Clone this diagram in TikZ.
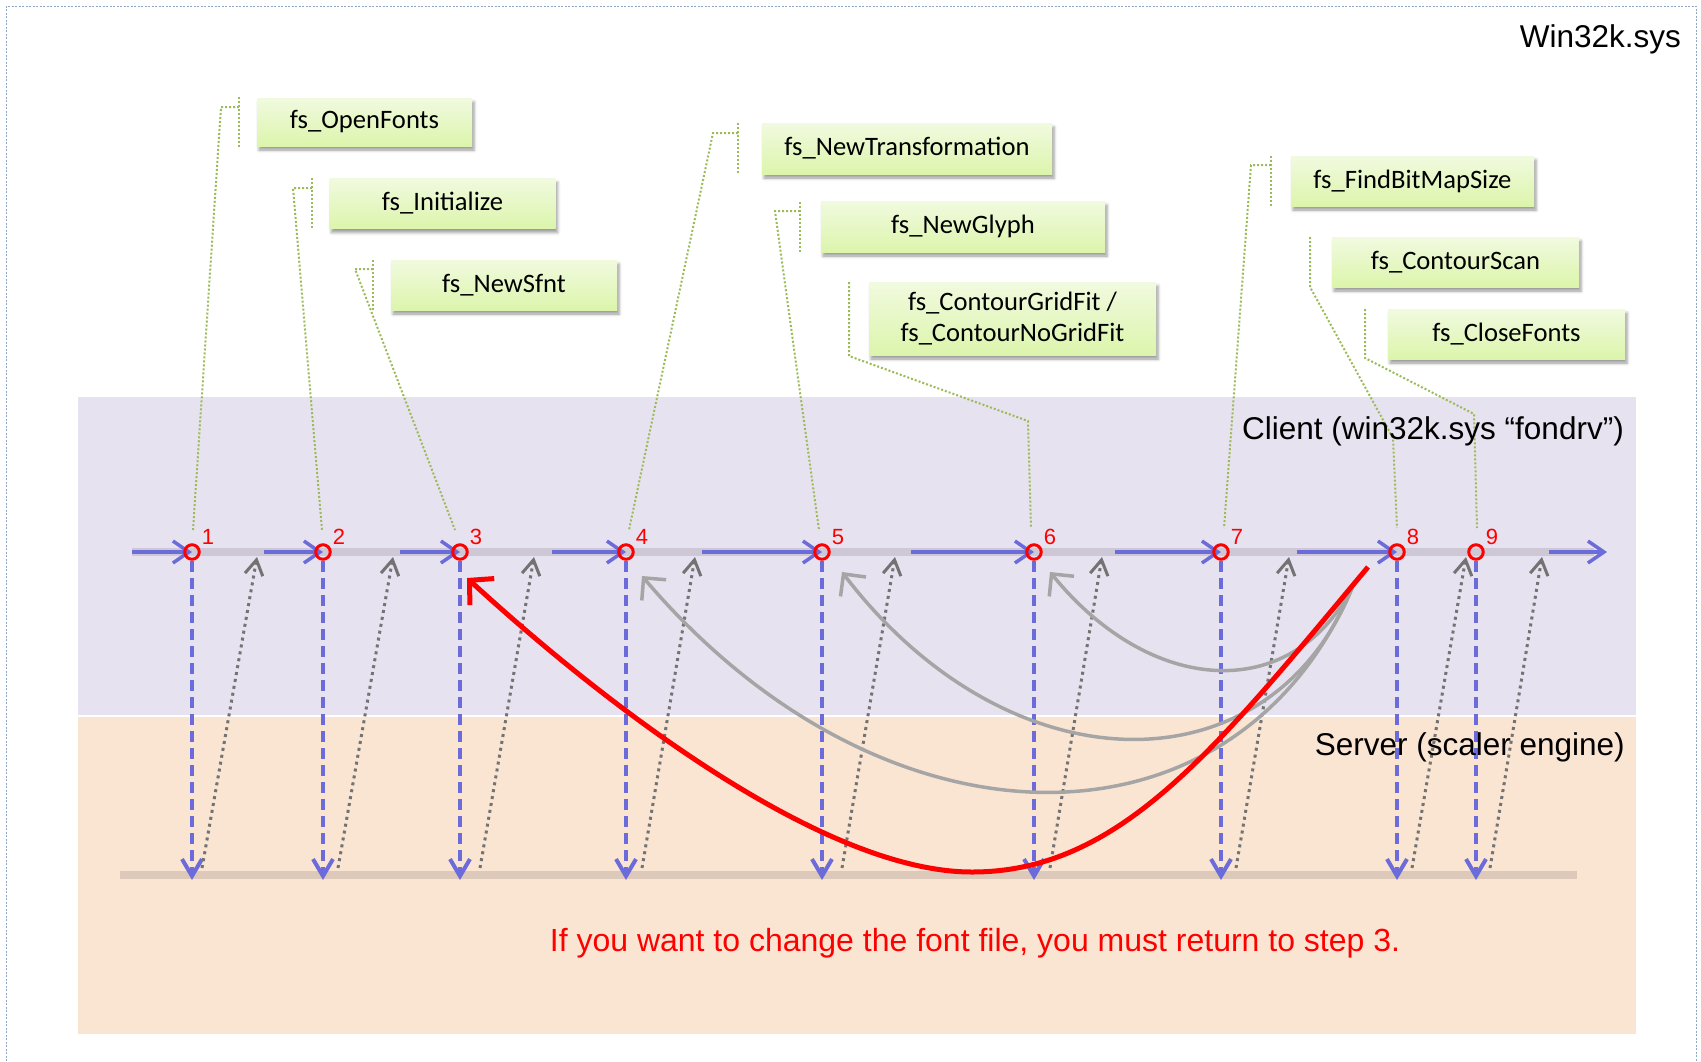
\documentclass[tikz,border=0pt]{standalone}
\usepackage{fontspec}
\setmainfont{Liberation Sans}
\newfontfamily\boxfont{Carlito}
\usetikzlibrary{arrows.meta,shadows.blur,calc}

\definecolor{clientbg}{HTML}{E7E2EF}
\definecolor{serverbg}{HTML}{FAE5D3}
\definecolor{railgray}{HTML}{CEC8D6}
\definecolor{floorline}{HTML}{DDC9B9}
\definecolor{callblue}{HTML}{6B6BDA}
\definecolor{retgray}{HTML}{737373}
\definecolor{loopgray}{HTML}{A5A5A5}
\definecolor{leadgreen}{HTML}{9BBB59}
\definecolor{boxtop}{HTML}{F1FADF}
\definecolor{boxbot}{HTML}{DCF5AC}
\definecolor{framecol}{HTML}{8FA6C4}

\begin{document}
\begin{tikzpicture}[x=1pt,y=-1pt,
  fnbox/.style={shade, top color=boxtop, bottom color=boxbot, inner sep=0pt, align=center,
    font=\boxfont\fontsize{26.6}{31}\selectfont,
    blur shadow={shadow xshift=2pt, shadow yshift=-4pt, shadow blur radius=3pt, shadow opacity=40}},
  leader/.style={leadgreen, line width=2pt, dash pattern=on 2pt off 2pt},
  railarrow/.style={callblue, line width=3.5pt, -{Straight Barb[length=16pt,width=22pt]}},
  downcall/.style={callblue, line width=4pt, dash pattern=on 11pt off 6pt,
    -{Straight Barb[length=17pt,width=20pt]}},
  retarrow/.style={retgray, line width=3pt, dash pattern=on 3pt off 4pt,
    -{Straight Barb[length=15pt,width=18pt]}},
  looparrow/.style={loopgray, line width=3.5pt, -{Straight Barb[length=16pt,width=32pt]}},
  redloop/.style={red, line width=5pt, -{Straight Barb[length=17pt,width=36pt]}},
  stepmark/.style={circle, draw=red, line width=3pt, minimum size=14.5pt, inner sep=0pt},
  stepnum/.style={red, font=\fontsize{22}{26}\selectfont, inner sep=0pt},
  biglabel/.style={font=\fontsize{31.5}{36}\selectfont, inner sep=0pt}
]
\useasboundingbox (0,0) rectangle (1701,1061);

% outer frame
\draw[framecol, line width=1pt, dash pattern=on 2pt off 1.5pt]
  (6,1061) -- (6,6) -- (1696,6) -- (1696,1061);

% client and server bands
\fill[clientbg] (78,397) rectangle (1636,715);
\fill[serverbg] (78,717) rectangle (1636,1034);

% step positions on the client rail and on the server floor
\foreach \x [count=\i] in {192,323,460,626,822,1034,1221,1397,1476} {
  \coordinate (p\i) at (\x,552);
  \coordinate (q\i) at (\x,880);
}
% return arrow ends
\foreach \t/\b [count=\i] in {257/202,393/338,534/480,695/642,895/842,1102/1050,1289/1236,1466/1412,1542/1490} {
  \coordinate (rt\i) at (\t,557);
  \coordinate (rb\i) at (\b,868);
}
% rail arrow starts
\foreach \s [count=\i] in {132,264,400,552,702,911,1115,1297} {
  \coordinate (ra\i) at (\s,552);
}
\coordinate (ra9) at (1549,552);
\coordinate (railend) at (1607,552);

% rail and floor
\draw[railgray, line width=8pt] (132,552) -- (1594,552);
\draw[floorline, line width=8pt] (120,875) -- (1577,875);

% calls from client to server
\foreach \i in {1,...,9} {
  \draw[downcall] ($(p\i)+(0,9)$) -- (q\i);
}
% returns from server to client
\foreach \i in {1,...,9} {
  \draw[retarrow] (rb\i) -- (rt\i);
}
% rail arrows
\foreach \i in {1,...,8} {
  \draw[railarrow] (ra\i) -- (p\i);
}
\draw[railarrow] (ra9) -- (railend);

% loops back from step 8
\coordinate (loopstart) at (1352,588);
\coordinate (loopend6) at (1050,572);
\coordinate (loopend5) at (842,572);
\coordinate (loopend4) at (642,576);
\draw[looparrow] (loopstart) .. controls (1290,705) and (1150,695) .. (loopend6);
\draw[looparrow] (loopstart) .. controls (1270,792) and (1010,792) .. (loopend5);
\draw[looparrow] (loopstart) .. controls (1235,862) and (885,862) .. (loopend4);

% red loop back to step 3
\coordinate (redstart) at (1368,567);
\coordinate (redlow) at (972,872);
\coordinate (redend) at (467,578);
\draw[redloop] (redstart) .. controls (1215,750) and (1120,872) .. (redlow)
  .. controls (820,872) and (600,700) .. (redend);

% step markers
\foreach \i in {1,...,9} {
  \node[stepmark] (s\i) at (p\i) {};
  \node[stepnum] (n\i) at ($(p\i)+(16,-15)$) {\i};
}

% function boxes
\node[fnbox, minimum width=215pt, minimum height=48pt] (o1) at (364.5,122) {fs\_OpenFonts};
\node[fnbox, minimum width=226pt, minimum height=50pt] (o2) at (442.5,203.5) {fs\_Initialize};
\node[fnbox, minimum width=226pt, minimum height=50pt] (o3) at (504,285) {fs\_NewSfnt};
\node[fnbox, minimum width=290pt, minimum height=51pt] (o4) at (907,148.5) {fs\_NewTransformation};
\node[fnbox, minimum width=284pt, minimum height=51pt] (o5) at (963,226.5) {fs\_NewGlyph};
\node[fnbox, minimum width=287pt, minimum height=73pt] (o6) at (1012.5,318.5) {fs\_ContourGridFit /\\fs\_ContourNoGridFit};
\node[fnbox, minimum width=243pt, minimum height=50pt] (o7) at (1412.5,181) {fs\_FindBitMapSize};
\node[fnbox, minimum width=247pt, minimum height=50pt] (o8) at (1455.5,262) {fs\_ContourScan};
\node[fnbox, minimum width=237pt, minimum height=50pt] (o9) at (1506.5,334) {fs\_CloseFonts};

% callout leaders
\draw[leader] (239,97) -- (239,147);
\draw[leader] (239,107) -- (221,107) -- ($(s1)+(1,-22)$);
\draw[leader] (312,178) -- (312,228);
\draw[leader] (312,188) -- (293,188) -- ($(s2)+(-1,-22)$);
\draw[leader] (373,260) -- (373,310);
\draw[leader] (373,269) -- (355,269) -- ($(s3)+(-5,-22)$);
\draw[leader] (738,123) -- (738,173);
\draw[leader] (738,133) -- (713,133) -- ($(s4)+(3,-22)$);
\draw[leader] (800,202) -- (800,252);
\draw[leader] (800,211) -- (775,211) -- ($(s5)+(-3,-22)$);
\draw[leader] (849,282) -- (849,356) -- (1028,421) -- ($(s6)+(-3,-24)$);
\draw[leader] (1271,156) -- (1271,206);
\draw[leader] (1271,165) -- (1251,165) -- ($(s7)+(3,-24)$);
\draw[leader] (1310,237) -- (1310,287) -- (1393,438) -- ($(s8)+(0,-24)$);
\draw[leader] (1365,309) -- (1365,358) -- (1474,414) -- ($(s9)+(1,-24)$);

% labels
\node[biglabel, anchor=east] (syslbl) at (1681,39) {Win32k.sys};
\node[biglabel, anchor=east] (clientlbl) at (1624,431) {Client (win32k.sys “fondrv”)};
\node[biglabel, anchor=east] (serverlbl) at (1625,747) {Server (scaler engine)};
\node[biglabel, red, font=\fontsize{32}{36}\selectfont] (note) at (975,943) {If you want to change the font file, you must return to step 3.};
\end{tikzpicture}
\end{document}
